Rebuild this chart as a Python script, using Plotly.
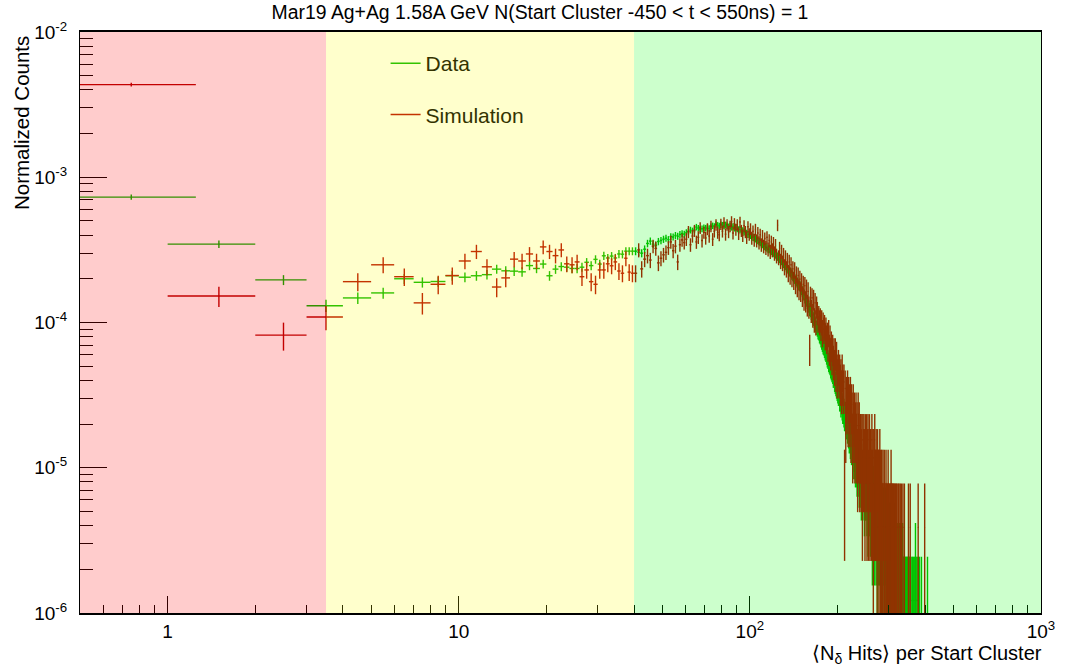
import numpy as np
import plotly.graph_objects as go

# ---------------- data ----------------
# Histogram bins: first bin spans 0.25-1.25, then unit-width bins [n, n+1)
bin_low = [0.25] + list(range(1, 410))
bin_high = [1.25] + list(range(2, 411))

# normalisation of one entry (counts -> "Normalized Counts")
DATA_UNIT = 1.22e-6
SIM_UNIT = 3.9e-6

data_counts = (
    [598, 284, 161, 107, 121, 131, 164, 155, 157, 172,
     168, 172, 175, 191, 186, 185, 183, 202, 193, 207,
     172, 191, 199, 197, 193, 193, 197, 213, 202, 223,
     207, 236, 228, 235, 228, 243, 242, 254, 254, 254,
     254, 250, 246, 262, 287, 298, 284, 279, 296, 301]
    + [307, 312, 305, 320, 318, 326, 322, 331, 336, 333]
    + [341, 348, 355, 350, 358, 372, 366, 359, 362, 368]
    + [366, 372, 364, 375, 380, 376, 388, 383, 379, 386]
    + [384, 378, 386, 380, 374, 379, 371, 376, 366, 370]
    + [362, 358, 359, 350, 352, 345, 340, 338, 331, 333]
    + [326, 322, 316, 314, 309, 303, 301, 296, 292, 285]
    + [283, 280, 274, 271, 268, 262, 263, 257, 255, 249]
    + [248, 244, 241, 236, 233, 228, 225, 221, 218, 213]
    + [209, 205, 202, 196, 194, 190, 186, 182, 180, 174]
    + [171, 168, 164, 160, 158, 155, 150, 149, 146, 141]
    + [138, 134, 130, 127, 122, 119, 116, 112, 108, 106]
    + [101, 99, 95, 93, 89, 87, 84, 81, 79, 76]
    + [74, 71, 70, 67, 66, 63, 61, 59, 57, 56]
    + [54, 52, 51, 49, 47, 46, 44, 43, 42, 40]
    + [39, 38, 37, 35, 35, 33, 32, 31, 30, 29]
    + [28, 27, 27, 25, 25, 23, 24, 22, 21, 21]
    + [20, 19, 19, 18, 17, 17, 16, 17, 15, 14]
    + [15, 13, 14, 12, 13, 11, 12, 10, 11, 10]
    + [9, 11, 9, 8, 10, 8, 9, 7, 8, 9]
    + [7, 6, 8, 7, 6, 9, 7, 5, 7, 6]
    + [6, 7, 5, 6, 4, 7, 5, 6, 5, 4]
    + [6, 4, 5, 3, 5, 6, 4, 5, 3, 4]
    + [5, 3, 4, 4, 2, 5, 3, 4, 3, 5]
    + [3, 4, 2, 3, 4, 3, 2, 4, 3, 3]
    + [2, 4, 3, 2, 3, 1, 3, 2, 4, 2]
    + [3, 2, 3, 1, 2, 2, 3, 1, 2, 2]
    + [1, 2, 3, 1, 2, 1, 2, 1, 2, 1]
    + [2, 1, 1, 2, 1, 0, 2, 1, 1, 2]
    + [1, 0, 1, 1, 2, 0, 1, 1, 0, 1]
    + [1, 1, 0, 1, 0, 1, 1, 0, 1, 0]
    + [1, 0, 1, 1, 0, 1, 0, 1, 0, 0]
    + [1, 0, 1, 0, 0, 1, 0, 0, 1, 0]
    + [2, 0, 1, 0, 0, 1, 0, 0, 0, 1]
    + [0, 0, 1, 0, 0, 0, 0, 0, 1, 0]
    + [0, 0, 0, 0, 0, 0, 0, 0, 0, 0]
    + [0, 0, 0, 0, 0, 0, 0, 1, 0, 0]
)

sim_counts = (
    [1113, 39, 21, 28, 49, 64, 53, 35, 47, 54,
     68, 79, 62, 45, 52, 70, 68, 76, 68, 85,
     79, 74, 81, 65, 64, 67, 53, 59, 49, 47,
     59, 59, 65, 63, 67, 58, 56, 71, 57, 56,
     56, 81, 60, 70, 74, 69, 86, 83, 66, 71]
    + [75, 78, 84, 92, 80, 86, 67, 88, 95, 91]
    + [96, 108, 88, 101, 110, 92, 99, 115, 94, 107]
    + [98, 113, 101, 118, 96, 109, 121, 107, 103, 122]
    + [109, 125, 104, 121, 108, 118, 127, 106, 123, 112]
    + [121, 105, 126, 110, 102, 119, 108, 99, 117, 104]
    + [113, 98, 109, 95, 112, 94, 106, 91, 103, 88]
    + [101, 86, 97, 84, 99, 82, 94, 79, 92, 81]
    + [90, 77, 87, 74, 120, 72, 83, 68, 79, 66]
    + [75, 62, 72, 60, 69, 56, 67, 54, 64, 52]
    + [60, 50, 59, 47, 55, 45, 54, 43, 51, 42]
    + [49, 39, 47, 37, 46, 36, 44, 34, 42, 33]
    + [17, 39, 31, 38, 29, 37, 27, 35, 26, 33]
    + [30, 27, 28, 26, 27, 24, 26, 22, 25, 23]
    + [24, 21, 23, 20, 21, 18, 22, 17, 20, 16]
    + [18, 15, 17, 14, 16, 13, 16, 12, 15, 11]
    + [12, 13, 11, 12, 10, 11, 9, 12, 10, 9]
    + [10, 2, 9, 5, 8, 7, 9, 6, 8, 7]
    + [6, 8, 5, 7, 6, 4, 7, 5, 6, 4]
    + [5, 6, 4, 5, 3, 6, 4, 5, 3, 4]
    + [4, 3, 4, 2, 4, 3, 4, 3, 2, 4]
    + [3, 4, 2, 3, 4, 2, 3, 4, 2, 3]
    + [3, 2, 4, 2, 3, 1, 3, 2, 4, 2]
    + [2, 3, 2, 1, 3, 2, 2, 1, 2, 3]
    + [1, 2, 1, 2, 1, 1, 2, 0, 1, 2]
    + [1, 1, 0, 2, 1, 1, 0, 1, 2, 1]
    + [1, 0, 1, 1, 0, 2, 1, 0, 1, 1]
    + [0, 1, 1, 0, 1, 0, 1, 0, 1, 0]
    + [1, 0, 0, 1, 0, 1, 0, 0, 1, 0]
    + [0, 1, 0, 0, 0, 1, 0, 0, 0, 1]
    + [0, 0, 0, 0, 0, 0, 0, 0, 0, 0]
    + [1, 0, 0, 0, 0, 1, 0, 0, 0, 0]
    + [0, 0, 0, 0, 0, 0, 0, 0, 0, 0]
    + [0, 0, 0, 0, 0, 0, 0, 0, 1, 0]
    + [0, 0, 0, 0, 0, 0, 0, 0, 0, 0]
    + [0, 0, 0, 0, 0, 0, 0, 0, 1, 0]
    + [0, 0, 0, 0, 0, 0, 0, 0, 0, 0]
)

# shaded regions (x ranges) and their colours
region_edges = [0.5, 3.5, 40.0, 1000.0]
region_colors = ["rgb(255,0,0)", "rgb(255,255,0)", "rgb(0,255,0)"]

x_tickvals = [1, 10, 100, 1000]
x_ticktext = ["1", "10", "10<sup>2</sup>", "10<sup>3</sup>"]
y_tickvals = [1e-6, 1e-5, 1e-4, 1e-3, 1e-2]
y_ticktext = ["10<sup>-6</sup>", "10<sup>-5</sup>", "10<sup>-4</sup>",
              "10<sup>-3</sup>", "10<sup>-2</sup>"]

TITLE = "Mar19 Ag+Ag 1.58A GeV N(Start Cluster -450 &lt; t &lt; 550ns) = 1"
DATA_COLOR = "rgb(0,180,0)"
SIM_COLOR = "rgb(180,0,0)"
FONT = "Liberation Sans, Arial, Helvetica, sans-serif"

# ---------------- build histogram points ----------------
def hist_points(counts, unit):
    lo = np.array(bin_low, dtype=float)
    hi = np.array(bin_high, dtype=float)
    c = np.array(counts, dtype=float)
    m = c > 0
    x = ((lo + hi) / 2)[m]
    xe = ((hi - lo) / 2)[m]
    y = c[m] * unit
    ye = np.sqrt(c[m]) * unit
    ye_minus = np.minimum(ye, y * 0.999999)
    return x, xe, y, ye, ye_minus

fig = go.Figure()
for counts, unit, col, name in [(data_counts, DATA_UNIT, DATA_COLOR, "Data"),
                                (sim_counts, SIM_UNIT, SIM_COLOR, "Simulation")]:
    x, xe, y, ye, yem = hist_points(counts, unit)
    fig.add_trace(go.Scatter(
        x=x, y=y, mode="markers", name=name, showlegend=False,
        marker=dict(size=1, color=col),
        error_x=dict(type="data", array=xe, color=col, thickness=1.4, width=0),
        error_y=dict(type="data", array=ye, arrayminus=yem, symmetric=False,
                     color=col, thickness=1.4, width=0),
    ))

# legend entries (colours as seen through the yellow band)
fig.add_trace(go.Scatter(x=[None], y=[None], mode="lines", name="Data",
                         legendgroup="d", line=dict(color="rgb(51,195,0)", width=1.5)))
fig.add_trace(go.Scatter(x=[None], y=[None], mode="lines", name="Simulation",
                         legendgroup="s", line=dict(color="rgb(195,51,0)", width=1.5)))

# translucent coloured bands drawn over the histograms
for i, col in enumerate(region_colors):
    fig.add_shape(type="rect", xref="x", yref="paper",
                  x0=region_edges[i], x1=region_edges[i + 1], y0=0, y1=1,
                  fillcolor=col, opacity=0.2, line=dict(width=0), layer="above")

fig.update_layout(
    width=1068, height=668,
    margin=dict(l=80, r=27, t=32, b=55),
    paper_bgcolor="white", plot_bgcolor="white",
    font=dict(family=FONT, size=19, color="black"),
    title=dict(text=TITLE, x=540 / 1068, xanchor="center", y=1 - 12 / 668,
               yanchor="middle", font=dict(size=19.4, family=FONT, color="black")),
    showlegend=True,
    legend=dict(x=0.318, y=0.981, xanchor="left", yanchor="top",
                bgcolor="rgba(0,0,0,0)", borderwidth=0,
                font=dict(size=21, family=FONT, color="rgb(51,51,0)"),
                tracegroupgap=21, traceorder="grouped"),
)

fig.update_xaxes(
    type="log", range=[np.log10(0.5), 3],
    showgrid=False, zeroline=False,
    showline=True, linecolor="black", linewidth=1.5, mirror=True,
    ticks="inside", ticklen=17, tickwidth=1, tickcolor="black",
    tickvals=x_tickvals, ticktext=x_ticktext, ticklabelstandoff=0,
    tickfont=dict(size=19, family=FONT),
    minor=dict(ticks="inside", ticklen=8, tickwidth=1, tickcolor="black",
               tickvals=[0.6, 0.7, 0.8, 0.9, 2, 3, 4, 5, 6, 7, 8, 9,
                         20, 30, 40, 50, 60, 70, 80, 90,
                         200, 300, 400, 500, 600, 700, 800, 900]),
)
fig.update_yaxes(
    type="log", range=[-6, -2],
    showgrid=False, zeroline=False,
    showline=True, linecolor="black", linewidth=1, mirror=True,
    ticks="inside", ticklen=27, tickwidth=1, tickcolor="black",
    tickvals=y_tickvals, ticktext=y_ticktext, ticklabelstandoff=8,
    tickfont=dict(size=19, family=FONT),
    minor=dict(ticks="inside", ticklen=13, tickwidth=1, tickcolor="black",
               tickvals=[m * 10.0 ** e for e in range(-6, -2) for m in range(2, 10)]),
)

# axis titles (ROOT style: aligned to the end of the axis)
fig.add_annotation(text="Normalized Counts", xref="paper", yref="paper",
                   x=(22 - 80) / 961, y=1 - (34 - 32) / 581, xanchor="center",
                   yanchor="top", textangle=-90, showarrow=False,
                   font=dict(size=20.5, family=FONT, color="black"))
fig.add_annotation(text="\u27e8N<sub>\u03b4</sub> Hits\u27e9 per Start Cluster",
                   xref="paper", yref="paper", x=1.0, y=-(654 - 613) / 581,
                   xanchor="right", yanchor="middle", showarrow=False, xshift=3,
                   font=dict(size=20, family=FONT, color="black"))

fig.write_html("out.html")
